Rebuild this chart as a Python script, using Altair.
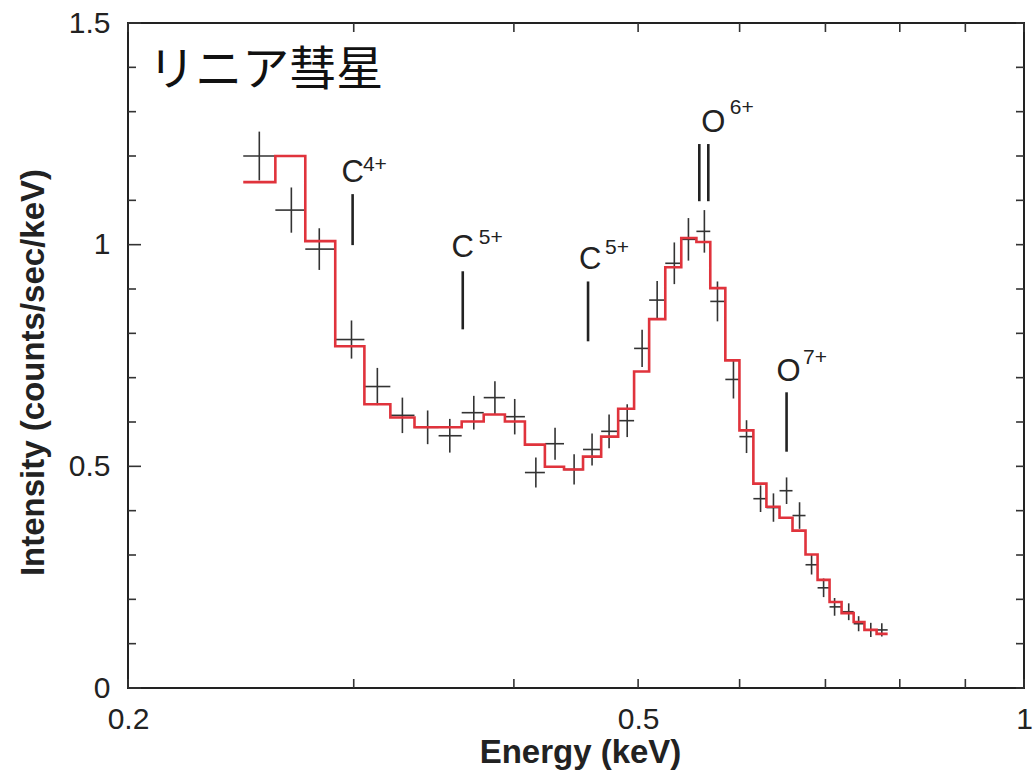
import altair as alt
import pandas as pd

# ---- data ----
# bin edges of the spectrum (keV)
edges = [0.2460, 0.2606, 0.2750, 0.2902, 0.3058, 0.3204, 0.3346, 0.3494, 0.3642,
         0.3789, 0.3936, 0.4080, 0.4229, 0.4377, 0.4529, 0.4679, 0.4824, 0.4964,
         0.5100, 0.5250, 0.5403, 0.5552, 0.5692, 0.5848, 0.5998, 0.6150, 0.6296,
         0.6446, 0.6598, 0.6754, 0.6902, 0.7052, 0.7206, 0.7364, 0.7508, 0.7674,
         0.7828]
# data point energies (keV)
energy = [0.2532, 0.2682, 0.2820, 0.2988, 0.3130, 0.3274, 0.3426, 0.3565, 0.3722,
          0.3866, 0.4006, 0.4161, 0.4307, 0.4457, 0.4603, 0.4746, 0.4903, 0.5036,
          0.5174, 0.5336, 0.5473, 0.5632, 0.5766, 0.5934, 0.6075, 0.6230, 0.6376,
          0.6528, 0.6682, 0.6828, 0.6977, 0.7116, 0.7299, 0.7430, 0.7594, 0.7746]
# observed intensity (counts/sec/keV)
intensity = [1.200, 1.078, 0.990, 0.786, 0.680, 0.615, 0.588, 0.569, 0.621, 0.655,
             0.612, 0.486, 0.551, 0.493, 0.538, 0.579, 0.603, 0.766, 0.875, 0.958,
             1.012, 1.030, 0.872, 0.696, 0.567, 0.427, 0.407, 0.445, 0.389, 0.278,
             0.226, 0.183, 0.172, 0.145, 0.131, 0.131]
# 1-sigma error
error = [0.055, 0.051, 0.047, 0.043, 0.042, 0.040, 0.038, 0.038, 0.038, 0.037,
         0.040, 0.034, 0.036, 0.034, 0.036, 0.038, 0.037, 0.042, 0.043, 0.047,
         0.048, 0.048, 0.045, 0.043, 0.037, 0.030, 0.032, 0.030, 0.030, 0.022,
         0.021, 0.020, 0.019, 0.017, 0.016, 0.015]
# model (red histogram)
model = [1.141, 1.200, 1.008, 0.771, 0.640, 0.610, 0.588, 0.588, 0.601, 0.617,
         0.601, 0.549, 0.499, 0.493, 0.522, 0.567, 0.630, 0.714, 0.832, 0.949,
         1.015, 1.006, 0.902, 0.739, 0.581, 0.461, 0.409, 0.384, 0.355, 0.301,
         0.244, 0.194, 0.169, 0.149, 0.131, 0.122]

# emission line markers
line_energy = [0.2994, 0.3649, 0.4570, 0.5581, 0.5672, 0.6528]
line_low = [0.999, 0.809, 0.782, 1.098, 1.098, 0.533]
line_high = [1.114, 0.940, 0.917, 1.227, 1.227, 0.667]

# ion labels
ion_base = ["C", "C", "C", "O", "O"]
ion_charge = ["4+", "5+", "5+", "6+", "7+"]
ion_base_x = [0.2994, 0.3649, 0.4587, 0.5724, 0.6550]
ion_base_y = [1.141, 0.972, 0.945, 1.254, 0.692]
ion_sup_x = [0.3050, 0.3756, 0.4712, 0.5895, 0.6725]
ion_sup_y = [1.166, 1.001, 0.979, 1.295, 0.730]

title_text = "リニア彗星"

x_ticks_major = [0.2, 0.5, 1.0]
x_ticks_minor = [0.3, 0.4, 0.6, 0.7, 0.8, 0.9]
y_ticks_major = [0.0, 0.5, 1.0, 1.5]
y_ticks_minor = [0.1, 0.2, 0.3, 0.4, 0.6, 0.7, 0.8, 0.9, 1.1, 1.2, 1.3, 1.4]

# ---- tables ----
pts = pd.DataFrame({
    "E": energy,
    "lo": edges[:-1],
    "hi": edges[1:],
    "I": intensity,
    "ilo": [v - e for v, e in zip(intensity, error)],
    "ihi": [v + e for v, e in zip(intensity, error)],
})
step_rows = []
for i, m in enumerate(model):
    step_rows.append({"E": edges[i], "I": m, "k": 2 * i})
    step_rows.append({"E": edges[i + 1], "I": m, "k": 2 * i + 1})
step = pd.DataFrame(step_rows)
lines = pd.DataFrame({"E": line_energy, "lo": line_low, "hi": line_high})
base_lab = pd.DataFrame({"E": ion_base_x, "I": ion_base_y, "t": ion_base})
sup_lab = pd.DataFrame({"E": ion_sup_x, "I": ion_sup_y, "t": ion_charge})
title_df = pd.DataFrame({"E": [0.2074], "I": [1.360], "t": [title_text]})

W, H = 896, 665
FONT = "Liberation Sans"
INK = "#222222"
RED = "#e0333c"

xs = alt.Scale(type="log", domain=[0.2, 1.0], nice=False)
ys = alt.Scale(domain=[0, 1.5], nice=False, zero=False)
xaxis = alt.Axis(values=x_ticks_major, format="~g", ticks=False, domain=False, grid=False,
                 labelPadding=16, labelFontSize=30, labelFont=FONT, labelColor=INK,
                 labelOverlap=False, labelFlush=False,
                 title="Energy (keV)", titleFontSize=33, titleFont=FONT,
                 titleFontWeight="bold", titleColor=INK, titleX=452, titleY=64,
                 titleBaseline="middle", titleAlign="center")
yaxis = alt.Axis(values=y_ticks_major, format="~g", ticks=False, domain=False, grid=False,
                 labelPadding=18, labelFontSize=30, labelFont=FONT, labelColor=INK,
                 labelOverlap=False, labelFlush=False,
                 title="Intensity (counts/sec/keV)", titleFontSize=33, titleFont=FONT,
                 titleFontWeight="bold", titleColor=INK, titleX=-95, titleY=349,
                 titleBaseline="middle", titleAlign="center", titleAngle=-90)


def X(f):
    return alt.X(f, type="quantitative", scale=xs, axis=xaxis)


def Y(f):
    return alt.Y(f, type="quantitative", scale=ys, axis=yaxis)


hbars = alt.Chart(pts).mark_rule(color="#333333", strokeWidth=1.6).encode(
    x=X("lo"), x2="hi", y=Y("I"))
vbars = alt.Chart(pts).mark_rule(color="#333333", strokeWidth=1.6).encode(
    x=X("E"), y=Y("ilo"), y2="ihi")
model_line = alt.Chart(step).mark_line(color=RED, strokeWidth=2.6).encode(
    x=X("E"), y=Y("I"), order="k:Q")
markers = alt.Chart(lines).mark_rule(color=INK, strokeWidth=2.6).encode(
    x=X("E"), y=Y("lo"), y2="hi")
base_text = alt.Chart(base_lab).mark_text(
    align="center", baseline="alphabetic", font=FONT, fontSize=31, color=INK).encode(
    x=X("E"), y=Y("I"), text="t:N")
sup_text = alt.Chart(sup_lab).mark_text(
    align="left", baseline="alphabetic", font=FONT, fontSize=21, color=INK).encode(
    x=X("E"), y=Y("I"), text="t:N")
title_mark = alt.Chart(title_df).mark_text(
    align="left", baseline="alphabetic", font="Noto Sans CJK JP", fontSize=47,
    color="#111111").encode(x=X("E"), y=Y("I"), text="t:N")

# frame ticks (inward)
xt = pd.DataFrame({"v": x_ticks_major + x_ticks_minor,
                   "len": [10] * len(x_ticks_major) + [8] * len(x_ticks_minor)})
yt = pd.DataFrame({"v": y_ticks_major + y_ticks_minor,
                   "len": [13] * len(y_ticks_major) + [8] * len(y_ticks_minor)})

tick_style = dict(color="#333333", strokeWidth=1.6)
bottom_ticks = alt.Chart(xt).mark_rule(**tick_style).encode(
    x=X("v"), y=alt.value(H), y2=alt.value(H - 9))
top_ticks = alt.Chart(xt).mark_rule(**tick_style).encode(
    x=X("v"), y=alt.value(0), y2=alt.value(9))
left_major = alt.Chart(yt[yt["len"] > 10]).mark_rule(**tick_style).encode(
    y=Y("v"), x=alt.value(0), x2=alt.value(13))
left_minor = alt.Chart(yt[yt["len"] <= 10]).mark_rule(**tick_style).encode(
    y=Y("v"), x=alt.value(0), x2=alt.value(8))
right_ticks = alt.Chart(yt).mark_rule(**tick_style).encode(
    y=Y("v"), x=alt.value(W), x2=alt.value(W - 8))

chart = alt.layer(
    bottom_ticks, top_ticks, left_major, left_minor, right_ticks,
    hbars, vbars, model_line, markers, base_text, sup_text, title_mark,
).properties(
    width=W, height=H,
    autosize=alt.AutoSizeParams(type="none"),
    padding={"left": 128, "top": 23, "right": 10, "bottom": 87},
    background="white",
).configure_view(
    stroke="#222222", strokeWidth=2
)

chart.save("out.html", embed_options={"renderer": "svg", "actions": False})
